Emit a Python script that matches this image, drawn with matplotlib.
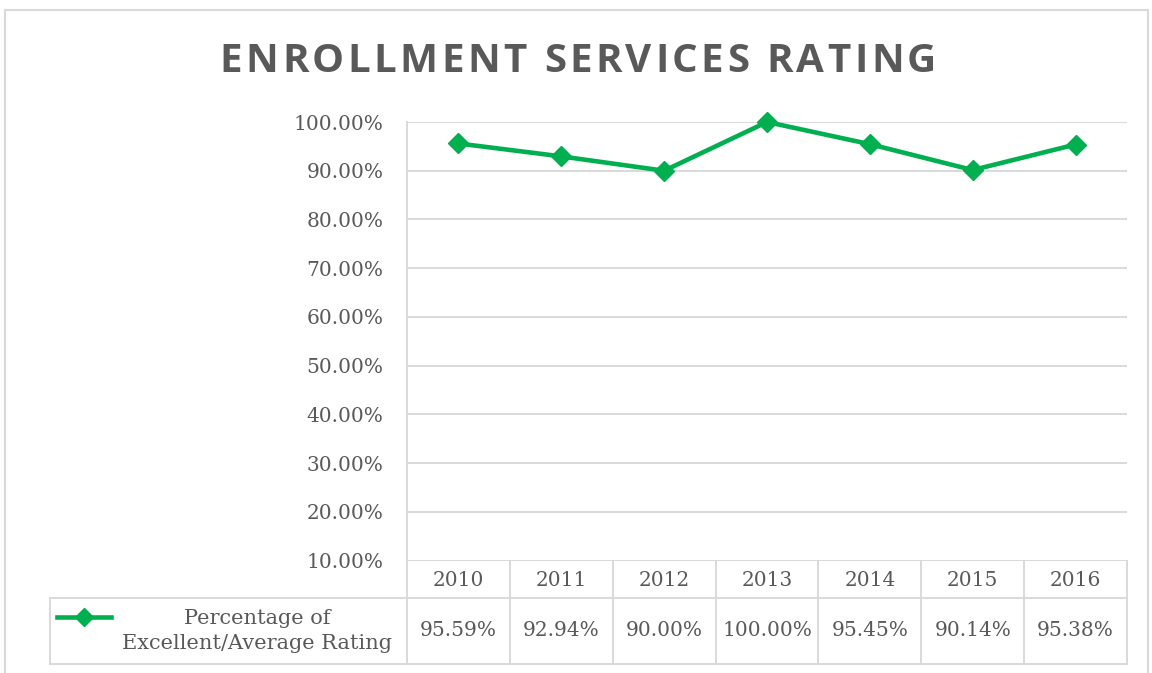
import numpy as np
import matplotlib
matplotlib.use("Agg")
import matplotlib.pyplot as plt
from matplotlib.lines import Line2D
from matplotlib.patches import Rectangle

# data
years = ["2010", "2011", "2012", "2013", "2014", "2015", "2016"]
rating = [95.59, 92.94, 90.00, 100.00, 95.45, 90.14, 95.38]
yticks = [10, 20, 30, 40, 50, 60, 70, 80, 90, 100]
series_name = "Percentage of\nExcellent/Average Rating"
title = "ENROLLMENT SERVICES RATING"

W, H = 1152, 673
green = "#00B050"
txt = "#595959"
grid = "#D9D9D9"
serif = "DejaVu Serif"

fig = plt.figure(figsize=(W / 100, H / 100), dpi=100)

def fx(px):
    return px / W

def fy(py):
    return 1 - py / H

# outer chart border
fig.patches.append(Rectangle((fx(5), fy(690)), fx(1148 - 5), fy(10) - fy(690),
                             transform=fig.transFigure, fill=False,
                             edgecolor=grid, lw=1.5))

# plot area in pixels
left, right, top, bot = 407, 1127, 122, 560.5
ax = fig.add_axes([fx(left), fy(bot), fx(right - left), fy(top) - fy(bot)])

x = np.arange(len(years))
ax.plot(x, rating, color=green, lw=3.3, marker="D", markersize=10.5, zorder=3,
        clip_on=False)
ax.set_xlim(-0.5, len(years) - 0.5)
ax.set_ylim(10, 100)
ax.set_yticks(yticks)
ax.set_yticklabels([f"{v:.2f}%" for v in yticks], fontfamily=serif,
                   fontsize=14.5, color=txt)
ax.tick_params(axis="y", length=0, pad=17)
ax.set_xticks([])
ax.yaxis.grid(True, color=grid, lw=1.4)
ax.set_axisbelow(True)
for s in ["top", "right", "bottom"]:
    ax.spines[s].set_visible(False)
ax.spines["left"].set_color(grid)
ax.spines["left"].set_linewidth(1.4)

# data table below the plot (x in data units, y in axes fraction)
ph = bot - top
def ay(py):
    return (bot - py) / ph

tr = ax.get_xaxis_transform()
row1, row2 = 597.5, 663.5
tl = dict(color=grid, lw=1.4, transform=tr, clip_on=False)
ax.add_line(Line2D([-0.5, len(years) - 0.5], [ay(row1)] * 2, **tl))
ax.add_line(Line2D([-0.5, len(years) - 0.5], [ay(row2)] * 2, **tl))
ax.add_line(Line2D([-0.5, -0.5], [0, ay(row2)], **tl))
for i in range(len(years)):
    ax.add_line(Line2D([i + 0.5] * 2, [0, ay(row2)], **tl))
for i, (yr, v) in enumerate(zip(years, rating)):
    ax.text(i, ay(580), yr, transform=tr, ha="center",
            va="center", fontfamily=serif, fontsize=14.5, color=txt)
    ax.text(i, ay(631), f"{v:.2f}%", transform=tr, ha="center",
            va="center", fontfamily=serif, fontsize=14.5, color=txt)

# legend cell
fig.lines.append(Line2D([fx(50), fx(left)], [fy(row1)] * 2, color=grid, lw=1.4,
                        transform=fig.transFigure))
fig.lines.append(Line2D([fx(50), fx(left)], [fy(row2)] * 2, color=grid, lw=1.4,
                        transform=fig.transFigure))
fig.lines.append(Line2D([fx(50)] * 2, [fy(row1), fy(row2)], color=grid, lw=1.4,
                        transform=fig.transFigure))
fig.lines.append(Line2D([fx(57), fx(111)], [fy(617)] * 2, color=green, lw=3.3,
                        transform=fig.transFigure))
fig.lines.append(Line2D([fx(84)], [fy(617)], color=green, marker="D",
                        markersize=9, transform=fig.transFigure))
fig.text(fx(257), fy(631), series_name, ha="center", va="center",
         fontfamily=serif, fontsize=15, color=txt, linespacing=1.45)

# title with letter spacing: place characters one by one
renderer = fig.canvas.get_renderer()
tkw = dict(fontfamily="Open Sans", fontweight="bold", fontsize=29, color=txt)
gap = 3.4
widths = []
for ch in title:
    t = fig.text(0, 0, ch if ch != " " else "n", **tkw)
    w = t.get_window_extent(renderer).width
    if ch == " ":
        w *= 0.4
    widths.append(w)
    t.remove()
total = sum(widths) + gap * (len(title) - 1)
cx = 578 - total / 2
for ch, w in zip(title, widths):
    if ch != " ":
        fig.text(fx(cx), fy(61), ch, ha="left", va="center", **tkw)
    cx += w + gap

fig.savefig("out.png", dpi=100)
